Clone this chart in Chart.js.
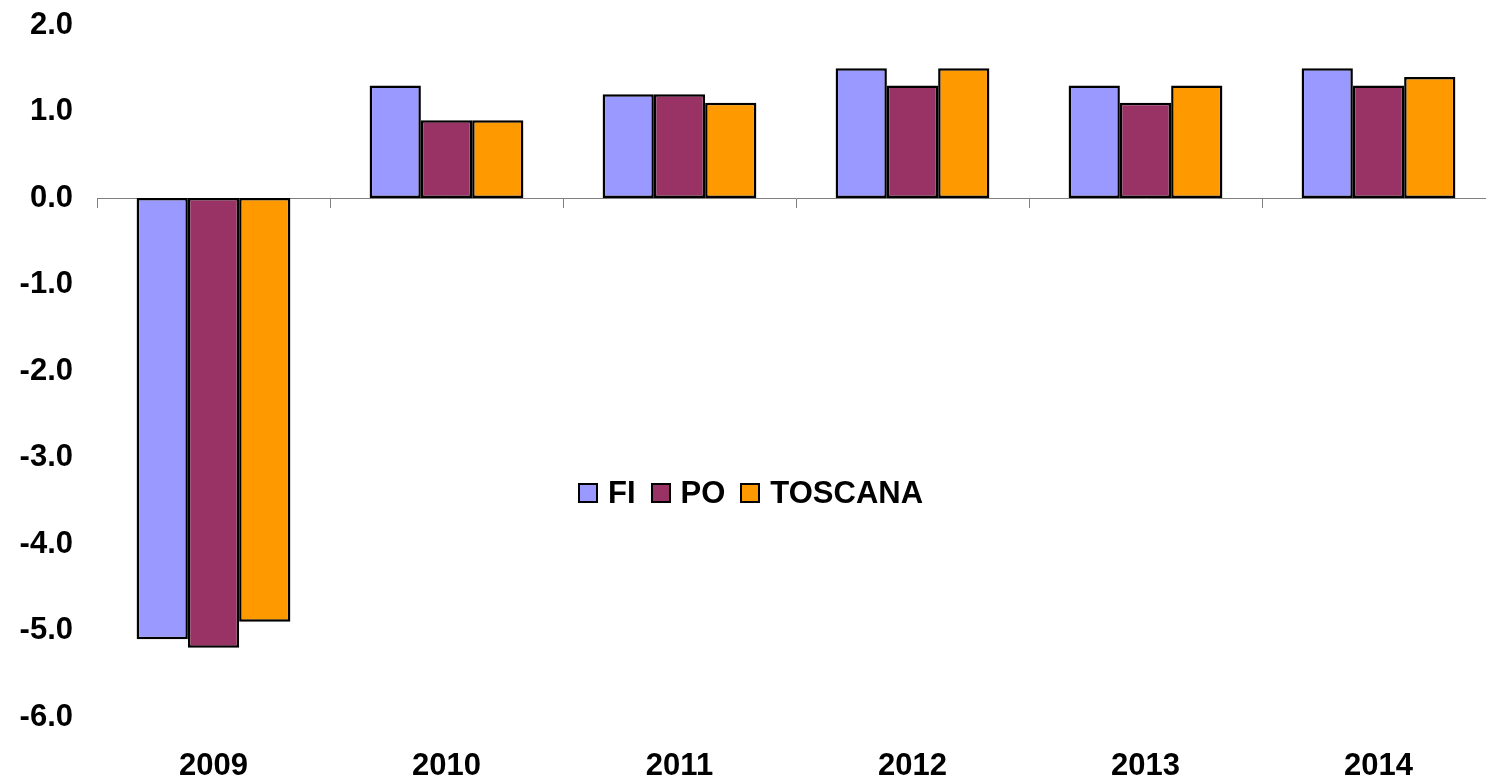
<!DOCTYPE html>
<html>
<head>
<meta charset="utf-8">
<script src="https://cdn.jsdelivr.net/npm/chart.js@4.4.1/dist/chart.umd.min.js"></script>
<style>
  html, body { margin: 0; padding: 0; background: #fff; overflow: hidden; width: 1486px; height: 782px; }
  #wrap { position: absolute; left: 0; top: 0; width: 1497px; height: 782px; }
  #legend { position: absolute; left: 578px; top: 474px; display: flex; align-items: center;
    font-family: 'Liberation Sans', Arial, sans-serif; font-weight: bold; font-size: 31px; color: #000; line-height: 38px; }
  #legend .item { display: flex; align-items: center; margin-right: 15px; }
  #legend .box { width: 16px; height: 16px; border: 2px solid #000; margin-right: 10px; }
</style>
</head>
<body>
<div id="wrap"><canvas id="c"></canvas></div>
<div id="legend"></div>
<script>
const categories = ['2009', '2010', '2011', '2012', '2013', '2014'];
const seriesNames = ['FI', 'PO', 'TOSCANA'];
const fiValues = [-5.1, 1.3, 1.2, 1.5, 1.3, 1.5];
const poValues = [-5.2, 0.9, 1.2, 1.3, 1.1, 1.3];
const toscanaValues = [-4.9, 0.9, 1.1, 1.5, 1.3, 1.4];
const seriesColors = ['#9999FF', '#993366', '#FF9900'];
const yMin = -6, yMax = 2, yStep = 1;

const seriesValues = [fiValues, poValues, toscanaValues];

Chart.defaults.font.family = "'Liberation Sans', Arial, sans-serif";
Chart.defaults.font.size = 31;
Chart.defaults.font.weight = 'bold';
Chart.defaults.color = '#000';

new Chart(document.getElementById('c'), {
  type: 'bar',
  data: {
    labels: categories,
    datasets: seriesNames.map((n, i) => ({
      label: n,
      data: seriesValues[i],
      backgroundColor: seriesColors[i],
      borderColor: '#000',
      borderWidth: 2.5,
      borderSkipped: false,
      xAxisID: 'x',
      yAxisID: 'y',
      categoryPercentage: 0.66,
      barPercentage: 1.0
    }))
  },
  options: {
    responsive: true,
    maintainAspectRatio: false,
    animation: false,
    layout: { padding: { top: 25, bottom: 2, right: 2, left: 0 } },
    plugins: { legend: { display: false }, tooltip: { enabled: false } },
    scales: {
      x: {
        type: 'category',
        position: { y: 0 },
        offset: true,
        grid: { offset: true, drawOnChartArea: false, drawTicks: true, tickLength: 9, color: '#808080', lineWidth: 1 },
        border: { display: true, color: '#808080', width: 1 },
        ticks: { display: false },
        afterFit: s => { s.height = 0; s.paddingLeft = 0; s.paddingRight = 0; s.paddingTop = 0; s.paddingBottom = 0; }
      },
      x2: {
        type: 'category',
        position: 'bottom',
        offset: true,
        grid: { display: false },
        border: { display: false },
        ticks: { padding: 26, font: { lineHeight: 1 }, maxRotation: 0 },
        afterFit: s => { s.height = 63; s.paddingLeft = 0; s.paddingRight = 0; }
      },
      y: {
        min: yMin,
        max: yMax,
        grid: { display: false, drawTicks: false },
        border: { display: false },
        ticks: { stepSize: yStep, padding: 24, font: { lineHeight: 1 }, callback: v => Number(v).toFixed(1) },
        afterFit: s => { s.width = 97; s.paddingTop = 0; s.paddingBottom = 0; }
      }
    }
  }
});

const leg = document.getElementById('legend');
seriesNames.forEach((n, i) => {
  const it = document.createElement('div');
  it.className = 'item';
  const b = document.createElement('div');
  b.className = 'box';
  b.style.background = seriesColors[i];
  const t = document.createElement('span');
  t.textContent = n;
  it.appendChild(b); it.appendChild(t);
  leg.appendChild(it);
});
</script>
</body>
</html>
